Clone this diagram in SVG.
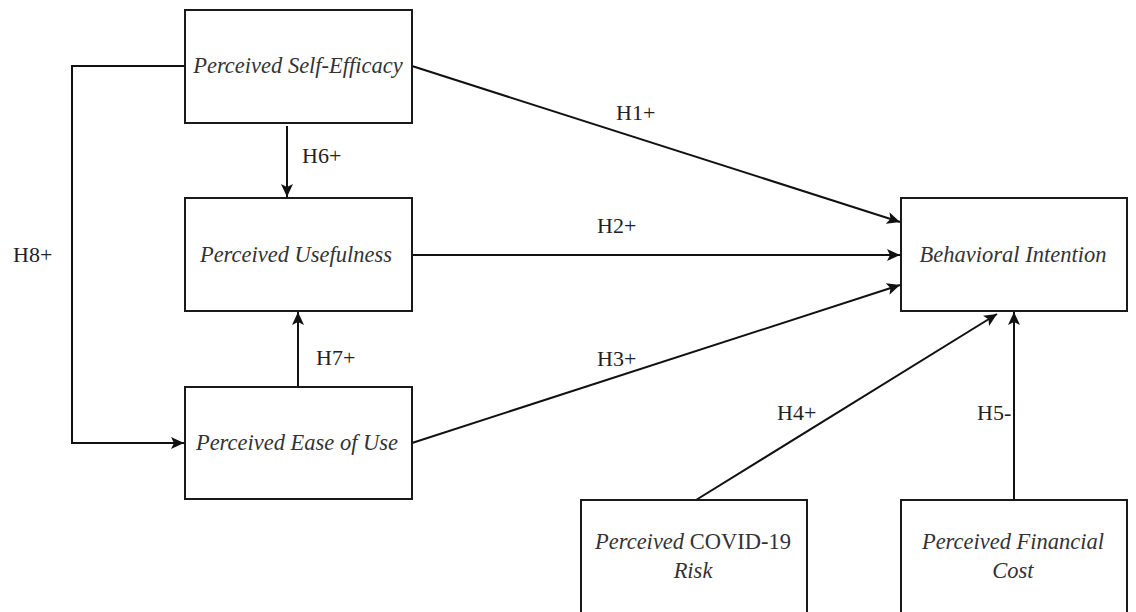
<svg xmlns="http://www.w3.org/2000/svg" width="1136" height="612" viewBox="0 0 1136 612">
<style>
.box{fill:#fff;stroke:#1a1a1a;stroke-width:2}
.node{font-family:"Liberation Serif","Times New Roman",serif;font-style:italic;font-size:22.5px;fill:#333;text-anchor:middle}
.up{font-style:normal}
.lbl{font-family:"Liberation Serif","Times New Roman",serif;font-size:22px;fill:#222}
.edge{fill:none;stroke:#111;stroke-width:2}
</style>
<defs>
<marker id="arr" markerUnits="userSpaceOnUse" markerWidth="14" markerHeight="12" refX="13" refY="6" orient="auto">
<path d="M0,0 L13,6 L0,12 L3,6 z" fill="#111"/>
</marker>
</defs>
<rect width="1136" height="612" fill="#fff"/>
<g id="connectors">
<path class="edge" d="M185,66 H72 V443 H184" marker-end="url(#arr)"/>
<path class="edge" d="M287,126 V197" marker-end="url(#arr)"/>
<path class="edge" d="M298,387 V312" marker-end="url(#arr)"/>
<path class="edge" d="M412,66 L900,222" marker-end="url(#arr)"/>
<path class="edge" d="M412,255 L900,255" marker-end="url(#arr)"/>
<path class="edge" d="M412,443 L900,285" marker-end="url(#arr)"/>
<path class="edge" d="M696,500 L997,314" marker-end="url(#arr)"/>
<path class="edge" d="M1014,500 V312" marker-end="url(#arr)"/>
<text class="lbl" x="616" y="120">H1+</text>
<text class="lbl" x="597" y="233">H2+</text>
<text class="lbl" x="597" y="366">H3+</text>
<text class="lbl" x="777" y="420">H4+</text>
<text class="lbl" x="977" y="420">H5-</text>
<text class="lbl" x="302" y="163">H6+</text>
<text class="lbl" x="316" y="365">H7+</text>
<text class="lbl" x="13" y="262">H8+</text>
</g>
<g id="pse"><rect class="box" x="185" y="10" width="227" height="113"/><text class="node" x="298" y="73">Perceived Self-Efficacy</text></g>
<g id="pu"><rect class="box" x="185" y="198" width="227" height="113"/><text class="node" x="296" y="262">Perceived Usefulness</text></g>
<g id="peou"><rect class="box" x="185" y="387" width="227" height="112"/><text class="node" x="297" y="450">Perceived Ease of Use</text></g>
<g id="bi"><rect class="box" x="901" y="198" width="226" height="113"/><text class="node" x="1013" y="262">Behavioral Intention</text></g>
<g id="covid"><rect class="box" x="581" y="500" width="226" height="120"/><text class="node" x="693" y="549">Perceived <tspan class="up">COVID-19</tspan></text><text class="node" x="693" y="578">Risk</text></g>
<g id="cost"><rect class="box" x="901" y="500" width="226" height="120"/><text class="node" x="1013" y="549">Perceived Financial</text><text class="node" x="1013" y="578">Cost</text></g>
</svg>
